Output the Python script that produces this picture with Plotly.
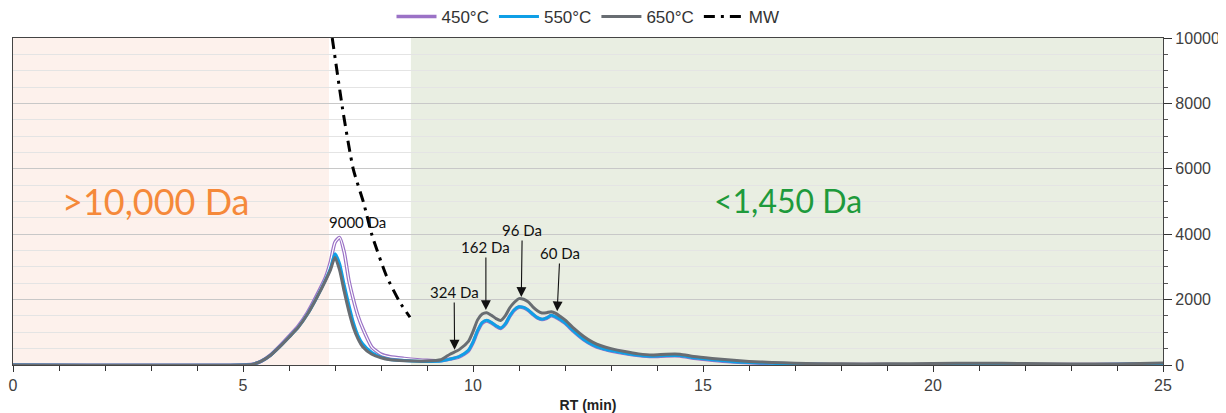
import plotly.graph_objects as go

# ---------------- data ----------------
rt = [0, 5.0, 5.2, 5.4, 5.6, 5.8, 6.0, 6.2, 6.4, 6.6,
      6.8, 6.9, 7.0, 7.1, 7.2, 7.3, 7.4, 7.5, 7.6, 7.8,
      8.0, 8.2, 8.5, 9.0, 9.3, 9.5, 9.7, 9.9, 10.0, 10.1,
      10.2, 10.3, 10.4, 10.5, 10.6, 10.7, 10.8, 10.9, 11.0, 11.1,
      11.2, 11.3, 11.4, 11.5, 11.6, 11.7, 11.8, 11.9, 12.0,
      12.2, 12.4, 12.6, 12.8, 13.0, 13.3, 13.6, 13.9, 14.2, 14.5,
      14.8, 15.2, 15.6, 16.0, 16.5, 17.0, 17.5, 18, 19, 20,
      21, 22, 23, 24, 25]

i450 = [0, 0, 20, 120, 310, 580, 880, 1190, 1600, 2120,
        2700, 3150, 3750, 3900, 3450, 2600, 2000, 1500, 1130, 550,
        330, 250, 200, 140, 130, 180, 250, 430, 680, 1030,
        1280, 1350, 1290, 1190, 1120, 1240, 1490, 1680, 1770, 1750,
        1670, 1550, 1440, 1390, 1430, 1510, 1460, 1380, 1280,
        1010, 780, 610, 500, 430, 350, 290, 260, 280, 280,
        210, 150, 100, 70, 45, 30, 20, 15, 10, 10,
        15, 15, 10, 20, 40]

i550 = [0, 0, 20, 120, 300, 560, 850, 1150, 1550, 2050,
        2620, 2950, 3400, 3100, 2450, 1850, 1300, 900, 650, 380,
        240, 170, 140, 110, 120, 180, 260, 450, 700, 1050,
        1300, 1370, 1300, 1200, 1130, 1250, 1500, 1690, 1780, 1760,
        1680, 1560, 1450, 1400, 1440, 1520, 1470, 1390, 1290,
        1020, 790, 620, 510, 440, 360, 300, 270, 290, 290,
        220, 160, 110, 80, 50, 30, 20, 15, 10, 10,
        15, 15, 10, 20, 40]

i650 = [0, 0, 20, 120, 300, 560, 850, 1150, 1550, 2050,
        2600, 2900, 3290, 2900, 2250, 1650, 1150, 800, 560, 330,
        220, 160, 130, 120, 160, 330, 470, 720, 1020, 1380,
        1560, 1600, 1520, 1420, 1360, 1500, 1750, 1920, 2030, 2010,
        1930, 1780, 1660, 1590, 1600, 1630, 1580, 1480, 1380,
        1110, 880, 700, 580, 500, 410, 340, 305, 330, 330,
        260, 200, 150, 110, 80, 55, 40, 35, 35, 45,
        55, 45, 30, 30, 60]

mw_rt = [6.94, 7.18, 7.40, 7.62, 7.80, 8.12, 8.41, 8.63]
mw_da = [10000, 7700, 5975, 4970, 3990, 2720, 1920, 1460]

series_names = ["450°C", "550°C", "650°C", "MW"]

region_bounds = [0, 6.87, 8.65, 25]
region_labels = [">10,000 Da", "<1,450 Da"]

peak_labels = ["324 Da", "162 Da", "96 Da", "60 Da"]
peak_rt = [9.6, 10.28, 11.05, 11.83]
peak_label_rt = [9.59, 10.28, 11.07, 11.89]
top_label = "9000 Da"
top_label_rt = 7.48

# ---------------- figure ----------------
fig = go.Figure()

fig.add_trace(go.Scatter(x=rt, y=i450, name=series_names[0], mode="lines",
                         line=dict(color="#9b72c6", width=3.6, shape="spline", smoothing=0.6)))
fig.add_trace(go.Scatter(x=rt, y=i450, showlegend=False, mode="lines", hoverinfo="skip",
                         line=dict(color="#ffffff", width=1.2, shape="spline", smoothing=0.6)))
fig.add_trace(go.Scatter(x=rt, y=i550, name=series_names[1], mode="lines",
                         line=dict(color="#0f9fe6", width=3, shape="spline", smoothing=0.6)))
fig.add_trace(go.Scatter(x=rt, y=i650, name=series_names[2], mode="lines",
                         line=dict(color="#686d72", width=3, shape="spline", smoothing=0.6)))
fig.add_trace(go.Scatter(x=mw_rt, y=mw_da, name=series_names[3], mode="lines",
                         line=dict(color="#000000", width=3, dash="11px,6px,3px,6px",
                                   shape="spline", smoothing=0.6)))

# shaded regions
fig.add_shape(type="rect", xref="x", yref="paper", x0=region_bounds[0], x1=region_bounds[1],
              y0=0, y1=1, fillcolor="#fdf1ec", line_width=0, layer="below")
fig.add_shape(type="rect", xref="x", yref="paper", x0=region_bounds[2], x1=region_bounds[3],
              y0=0, y1=1, fillcolor="#e9eee2", line_width=0, layer="below")

lab_font = "Lato, Open Sans, sans-serif"
fig.add_annotation(x=3.09, y=5020, text=region_labels[0],
                   showarrow=False, font=dict(family=lab_font, size=36, color="#f5893a"))
fig.add_annotation(x=16.85, y=5020, text=region_labels[1],
                   showarrow=False, font=dict(family=lab_font, size=32, color="#1e9a3c"))

fig.add_annotation(x=top_label_rt, y=4380, text=top_label, showarrow=False,
                   font=dict(family=lab_font, size=15, color="#111"))

tips_y = [470, 1680, 2080, 1640]
text_y = [2230, 3610, 4130, 3425]
for lab, xt, xl, ty, ly in zip(peak_labels, peak_rt, peak_label_rt, tips_y, text_y):
    fig.add_annotation(x=xt, y=ty, ax=xl, ay=ly, axref="x", ayref="y", text=lab,
                       showarrow=True, arrowhead=2, arrowsize=1.8, arrowwidth=1.1,
                       arrowcolor="#111", font=dict(family=lab_font, size=15, color="#111"))

W, H = 1218, 405
fig.update_layout(
    width=W, height=H,
    margin=dict(l=5, r=63, t=30, b=48, autoexpand=False),
    paper_bgcolor="white", plot_bgcolor="white",
    font=dict(family="Liberation Sans, Arial, sans-serif", color="#404040", size=16),
    showlegend=True,
    legend=dict(orientation="h", x=0.5, xanchor="center", yref="container",
                y=1 - 9 / H, yanchor="middle",
                font=dict(family="Liberation Sans, Arial, sans-serif", size=17, color="#333"),
                bgcolor="rgba(0,0,0,0)", itemwidth=40, tracegroupgap=0),
    xaxis=dict(range=[0, 25], dtick=5, tick0=0, showgrid=False, zeroline=False,
               ticks="outside", ticklen=6, tickcolor="#333", showline=True, linecolor="#444",
               linewidth=1.3, mirror=True, automargin=False,
               minor=dict(dtick=1, ticks="outside", ticklen=5, tickcolor="#333"),
               title=dict(text="<b>RT (min)</b>", font=dict(size=14, color="#222"), standoff=6),
               tickfont=dict(size=16, color="#404040")),
    yaxis=dict(range=[0, 10000], dtick=2000, side="right", showgrid=True, gridcolor="#c8c8c8",
               gridwidth=1.2, zeroline=False, ticks="outside", ticklen=8, tickcolor="#333",
               showline=True, linecolor="#444", linewidth=1.3, mirror=True, automargin=False,
               tickformat="d",
               minor=dict(dtick=500, ticks="outside", ticklen=4, tickcolor="#555",
                          showgrid=True, gridcolor="#e4e4e4", gridwidth=1),
               tickfont=dict(size=16, color="#404040")),
)

fig.write_html("out.html")
